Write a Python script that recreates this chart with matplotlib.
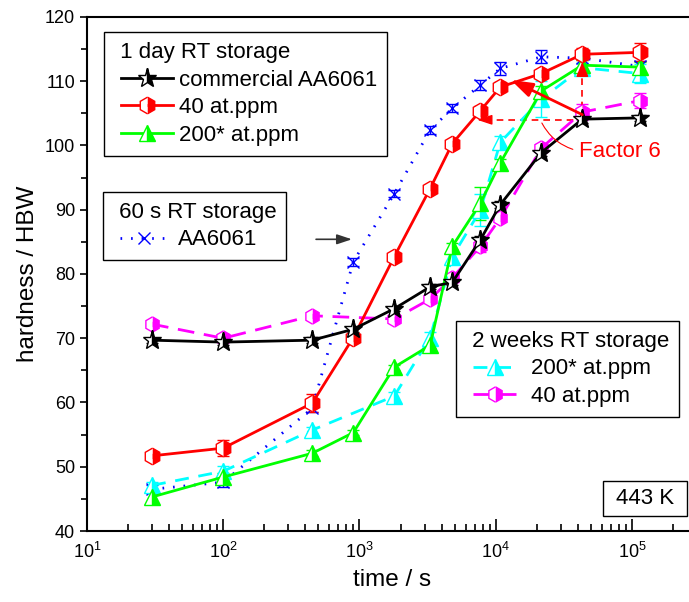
import matplotlib
matplotlib.use("Agg")
import matplotlib.pyplot as plt
from matplotlib.ticker import MultipleLocator, LogLocator
from matplotlib.patches import Rectangle
from matplotlib.legend_handler import HandlerLine2D
from matplotlib.lines import Line2D

plt.rcParams['font.family'] = ['Liberation Sans', 'DejaVu Sans']
plt.rcParams['mathtext.fontset'] = 'custom'
plt.rcParams['mathtext.rm'] = 'Liberation Sans'
plt.rcParams['mathtext.it'] = 'Liberation Sans:italic'

# ageing times at 443 K (s)
t_all = [30, 100, 450, 900, 1800, 3300, 4800, 7700, 10800, 21600, 43200, 115200]
t_2w = [30, 100, 450, 1800, 3300, 4800, 7700, 10800, 21600, 43200, 115200]

# 1 day RT storage
hb_commercial = [69.7, 69.4, 69.7, 71.4, 74.6, 78.0, 78.7, 85.3, 90.8, 98.9, 104.1, 104.3]
err_commercial = [0.4, 0.5, 0.5, 0.4, 0.3, 0.4, 0.4, 0.6, 0.6, 0.5, 0.6, 0.5]
hb_40 = [51.7, 52.9, 59.9, 70.1, 82.7, 93.3, 100.3, 105.4, 109.1, 111.2, 114.2, 114.5]
err_40 = [0.3, 1.3, 1.4, 0.5, 0.3, 0.3, 0.4, 0.8, 0.8, 0.6, 0.9, 1.4]
hb_200 = [45.3, 48.4, 52.1, 55.3, 65.5, 68.9, 84.3, 91.0, 97.3, 108.5, 112.5, 112.2]
err_200 = [0.8, 0.6, 0.5, 0.4, 0.4, 0.4, 0.5, 2.6, 0.6, 0.8, 0.8, 0.8]

# 60 s RT storage
hb_60s = [46.5, 47.6, 59.1, 81.9, 92.5, 102.4, 105.8, 109.4, 112.0, 113.8, 113.6, 112.3]
err_60s = [0.6, 0.8, 0.6, 0.6, 0.5, 0.6, 0.6, 0.8, 1.0, 1.0, 0.8, 0.8]

# 2 weeks RT storage
hb_200_2w = [47.1, 49.3, 55.7, 61.0, 70.1, 82.7, 89.9, 100.5, 107.2, 112.1, 111.2]
err_200_2w = [0.6, 0.8, 0.5, 0.6, 0.8, 1.0, 2.5, 1.0, 2.8, 0.8, 1.5]
hb_40_2w = [72.2, 70.0, 73.5, 73.0, 76.1, 79.4, 84.3, 88.7, 99.6, 105.2, 107.0]
err_40_2w = [0.3, 0.6, 0.3, 0.3, 0.4, 0.4, 0.8, 0.5, 0.6, 1.2, 1.2]

fig = plt.figure(figsize=(6.89, 6.02), dpi=100)
ax = fig.add_axes([87 / 689, 71 / 602, 610 / 689, 514 / 602])


def series(t, y, e, color, marker, ms, ls, dashes=None):
    kw = dict(yerr=e, color=color, ecolor=color, lw=2, marker=marker, ms=ms,
              mec=color, mfc=color, mfcalt='white', fillstyle='right', mew=1,
              capsize=4, elinewidth=1, capthick=1, ls=ls)
    if dashes is not None:
        kw['dashes'] = dashes
    cont = ax.errorbar(t, y, **kw)
    return cont[0]


l_60s = series(t_all, hb_60s, err_60s, '#0000FF', 'x', 8, ':', dashes=(0.6, 3.2))
l_40_2w = series(t_2w, hb_40_2w, err_40_2w, '#FF00FF', 'h', 11, '--', dashes=(6, 3.5))
l_200_2w = series(t_2w, hb_200_2w, err_200_2w, '#00FFFF', '^', 11, '--', dashes=(5, 3.5))
l_200 = series(t_all, hb_200, err_200, '#00FF00', '^', 11, '-')
l_40 = series(t_all, hb_40, err_40, '#FF0000', 'h', 12, '-')
l_com = series(t_all, hb_commercial, err_commercial, 'black', '*', 14, '-')

ax.set_xscale('log')
ax.set_xlim(10, 3e5)
ax.set_ylim(40, 120)
ax.yaxis.set_major_locator(MultipleLocator(10))
ax.yaxis.set_minor_locator(MultipleLocator(5))
ax.xaxis.set_major_locator(LogLocator(base=10, numticks=10))
ax.xaxis.set_minor_locator(LogLocator(base=10, subs=range(2, 10), numticks=20))
ax.tick_params(axis='x', which='major', direction='in', length=8.5, width=1.2, labelsize=13, pad=8)
ax.tick_params(axis='x', which='minor', direction='in', length=5, width=1.2)
ax.tick_params(axis='y', which='major', direction='out', length=5, width=1.2, labelsize=13)
ax.tick_params(axis='y', which='minor', direction='out', length=4, width=1.2)
for s in ax.spines.values():
    s.set_linewidth(1.5)

ax.set_xlabel('time / s', fontsize=17.5, labelpad=5)
ax.set_ylabel('hardness / HBW', fontsize=17.5, labelpad=4)

# handles start a little inside the frame, like the titles
hmap = {Line2D: HandlerLine2D(xpad=0.32)}
leg_kw = dict(loc='upper left', borderaxespad=0, fontsize=16, title_fontsize=16,
              frameon=True, fancybox=False, edgecolor='black', framealpha=1,
              alignment='left', labelspacing=0.3, borderpad=0.45, numpoints=1,
              handler_map=hmap)

leg1 = ax.legend([l_com, l_40, l_200], ['commercial AA6061', '40 at.ppm', '200* at.ppm'],
                 title=' 1 day RT storage', bbox_to_anchor=(0.028, 0.971),
                 handlelength=2.66, handletextpad=0.27, **leg_kw)
leg1.get_frame().set_linewidth(1.0)
ax.add_artist(leg1)

leg2 = ax.legend([l_60s], ['AA6061'], title=' 60 s RT storage', bbox_to_anchor=(0.026, 0.66),
                 handlelength=2.48, handletextpad=0.45, **leg_kw)
leg2.get_frame().set_linewidth(1.0)
ax.add_artist(leg2)

leg3 = ax.legend([l_200_2w, l_40_2w], ['200* at.ppm', '40 at.ppm'], title=' 2 weeks RT storage',
                 bbox_to_anchor=(0.605, 0.409), handlelength=2.25, handletextpad=0.68, **leg_kw)
leg3.get_frame().set_linewidth(1.0)

# arrow pointing from the 60 s legend to its curve
ax.annotate('', xy=(880, 85.4), xytext=(480, 85.4),
            arrowprops=dict(arrowstyle='-|>,head_length=0.6,head_width=0.2', color='#333333',
                            lw=1.2, mutation_scale=15, shrinkA=0, shrinkB=0))

# time shift between commercial alloy and 40 at.ppm at the same hardness
t_peak = 43200
t_same = 7300
hb_level = 104.0
ax.plot([t_same * 1.15, t_peak], [hb_level, hb_level], color='red', lw=1.2, dashes=(4, 3))
ax.annotate('', xy=(t_same, hb_level), xytext=(t_same * 1.2, hb_level),
            arrowprops=dict(arrowstyle='-|>,head_length=0.6,head_width=0.2', color='red',
                            lw=1, mutation_scale=15, shrinkA=0, shrinkB=0))
ax.plot([t_peak, t_peak], [hb_level, 111.5], color='red', lw=1.2, dashes=(4, 3))
ax.annotate('', xy=(t_peak, 113.0), xytext=(t_peak, 111.3),
            arrowprops=dict(arrowstyle='-|>,head_length=0.6,head_width=0.25', color='red',
                            lw=1, mutation_scale=15, shrinkA=0, shrinkB=0))
ax.annotate('', xy=(12900, 110.2), xytext=(t_peak, 104.8),
            arrowprops=dict(arrowstyle='-|>,head_length=0.6,head_width=0.2', color='red',
                            lw=2, mutation_scale=22, shrinkA=0, shrinkB=0))
ax.annotate('', xy=(21800, 103.5), xytext=(36800, 99.4),
            arrowprops=dict(arrowstyle='-', color='red', lw=0.8,
                            connectionstyle='arc3,rad=-0.2', shrinkA=0, shrinkB=0))
ax.text(40900, 99.0, 'Factor 6', color='red', fontsize=16, ha='left', va='center')

# ageing temperature label
ax.add_patch(Rectangle((0.846, 0.029), 0.1377, 0.068, transform=ax.transAxes,
                       fc='white', ec='black', lw=1, zorder=5))
ax.text(0.915, 0.063, '443 K', transform=ax.transAxes, fontsize=16,
        ha='center', va='center', zorder=6)

fig.savefig('out.png', dpi=100)
